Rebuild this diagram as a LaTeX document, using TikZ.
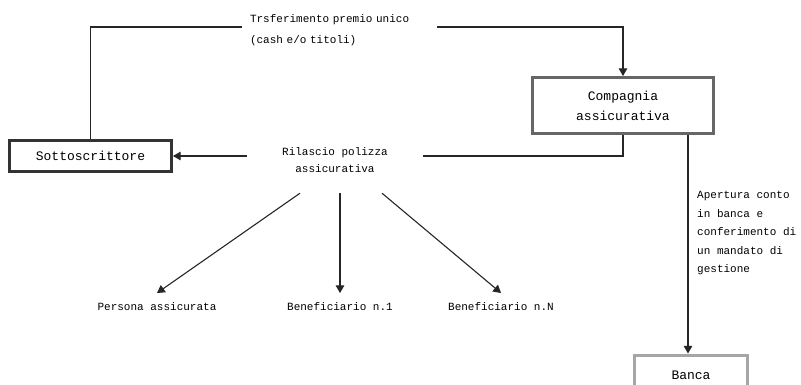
\documentclass[tikz,border=0pt]{standalone}
\usepackage{fontspec}
\setmainfont{Liberation Mono}
\usepackage{tikz}
\usetikzlibrary{arrows}

\begin{document}
\begin{tikzpicture}[x=1pt,y=-1pt,
    box/.style={draw,line width=3pt,fill=white,align=center,inner sep=0pt,font=\fontsize{13}{20}\selectfont},
    txt/.style={inner sep=0pt,font=\fontsize{11}{18.5}\selectfont},
    who/.style={txt,inner ysep=9pt,anchor=north},
    link/.style={line width=1.1pt,black!85}]
          \useasboundingbox (0,0) rectangle (801,384);
          % Sottoscrittore
          \node[box,draw=black!80,minimum width=162pt,minimum height=31pt] (sotto) at (90.5,156) {Sottoscrittore};
          % Compagnia
          \node[box,draw=black!60,minimum width=181pt,minimum height=56pt] (comp) at (623,105.5) {Compagnia\\assicurativa};
          % Banca
          \node[box,draw=black!35,minimum width=113pt,minimum height=40pt,anchor=north] (banca) at (691,353.5) {Banca};
          % testi sulle linee
          \node[txt,align=left,text width=179pt,inner xsep=8pt,font=\fontsize{11}{21}\selectfont] (premio) at (339.5,30.5) {Trsferimento premio unico\\(cash e/o titoli)};
          \node[txt,align=center,minimum width=176pt,minimum height=65pt,font=\fontsize{11}{17}\selectfont] (ril) at (335,160.5) {Rilascio polizza\\assicurativa};
          \node[txt,align=left,anchor=west] (apertura) at (697,233) {Apertura conto\\in banca e\\conferimento di\\un mandato di\\gestione};
          % persone
          \node[who] (persona) at (157,293) {Persona assicurata};
          \node[who] (ben1) at (340,293) {Beneficiario n.1};
          \node[who] (benN) at (501,293) {Beneficiario n.N};
          % line between Sottoscrittore and Compagnia
          \draw[link] (sotto.north) |- ([yshift=3.5pt]premio.west);
          \draw[link,-triangle 60] ([yshift=3.5pt]premio.east) -| (comp.north);
          % line between Compagnia and Sottoscrittore
          \draw[link] (comp.south) |- ([yshift=4.5pt]ril.east);
          \draw[link,-triangle 60] ([yshift=4.5pt]ril.west) -- (sotto.east);
          % lines to the persons
          \draw[link,-triangle 60] ([xshift=-35pt]ril.south) -- (persona.north);
          \draw[link,-triangle 60] ([xshift=5pt]ril.south) -- (ben1.north);
          \draw[link,-triangle 60] ([xshift=47pt]ril.south) -- (benN.north);
          % line between Compagnia and Banca
          \draw[link,-triangle 60] ([xshift=65pt]comp.south) -- ([xshift=-3pt]banca.north);
\end{tikzpicture}
\end{document}
